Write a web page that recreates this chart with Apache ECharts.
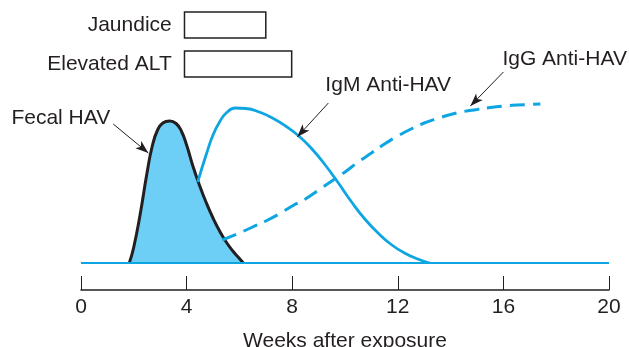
<!DOCTYPE html>
<html>
<head>
<meta charset="utf-8">
<script src="https://cdn.jsdelivr.net/npm/echarts@6/dist/echarts.min.js"></script>
<style>
html,body{margin:0;padding:0;background:#fff;}
#chart{width:629px;height:347px;}
</style>
</head>
<body>
<div id="chart"></div>
<script>
// ---- data ----
var tickValues = [0, 4, 8, 12, 16, 20];
var axisTitle = 'Weeks after exposure';

var fecalWeeks = [1.83, 2.0, 2.25, 2.5, 2.7, 2.9, 3.1, 3.36, 3.6, 3.8, 4.0, 4.25, 4.5, 4.75, 5.0, 5.25, 5.5, 5.75, 6.0, 6.15];
var fecalLevel = [0, 16, 50, 90, 117, 133, 140, 142, 139.5, 132, 118, 96, 77, 60, 45, 32, 21, 12, 4.5, 0];

var igmWeeks = [4.42, 4.75, 5.0, 5.25, 5.5, 5.84, 6.25, 6.75, 7.25, 7.75, 8.25, 8.75, 9.25, 9.75, 10.25, 10.75, 11.25, 11.75, 12.25, 12.75, 13.2];
var igmLevel = [81, 109, 128, 141, 150, 155, 154.5, 151, 145, 137, 127, 114, 98, 80, 61, 44, 30, 18.5, 10, 4, 0];

var iggWeeks = [5.35, 6.0, 6.5, 7.0, 7.5, 8.0, 8.5, 9.0, 9.5, 10.0, 10.5, 11.0, 11.5, 12.0, 12.5, 13.0, 13.5, 14.0, 14.5, 15.0, 15.5, 16.0, 16.5, 17.0, 17.4];
var iggLevel = [23, 30, 36, 42, 49, 57, 64, 73, 82, 91, 101, 110, 119, 127, 134, 140, 144.5, 148.5, 151.5, 153.5, 155.5, 157, 158, 158.5, 159];

var baselineWeeks = [0, 20];

// clinical periods
var periodLabels = ['Jaundice', 'Elevated ALT'];
var periodStart = [3.92, 3.92];
var periodEnd = [7.0, 7.98];
var periodRowLow = [225, 186];
var periodRowHigh = [251, 212];

// annotation arrows: label, tail [week, level], tip [week, level]
var annLabels = ['Fecal HAV', 'IgM Anti-HAV', 'IgG Anti-HAV'];
var annTail = [[1.22, 139], [9.37, 160], [16.0, 191]];
var annTip = [[2.55, 110], [8.19, 126], [14.75, 157]];

// ---- build ----
function zip(a, b) { return a.map(function (v, i) { return [v, b[i]]; }); }

var INK = '#231f20';
var BLUE = '#0ea6e2';
var FILL = '#6dcff6';
var FONT = 'Liberation Sans, Arial, Helvetica, sans-serif';
var FS = 21;

var chart = echarts.init(document.getElementById('chart'));

var areas = periodLabels.map(function (lab, i) {
  return [
    { name: lab, coord: [periodStart[i], periodRowLow[i]] },
    { coord: [periodEnd[i], periodRowHigh[i]] }
  ];
});

var arrows = annLabels.map(function (lab, i) {
  return [
    { coord: annTail[i], symbol: 'none' },
    { coord: annTip[i], symbol: 'arrow', symbolSize: [7, 13] }
  ];
});

chart.setOption({
  animation: false,
  backgroundColor: '#fff',
  grid: { left: 81, right: 20, top: 0, bottom: 84, outerBoundsMode: 'none', containLabel: false },
  xAxis: {
    type: 'value', min: 0, max: 20, interval: 4,
    offset: 27,
    splitLine: { show: false },
    axisLine: { show: true, onZero: false, lineStyle: { color: INK, width: 1.5 } },
    axisTick: { show: true, inside: true, length: 14, lineStyle: { color: INK, width: 1 } },
    axisLabel: { fontSize: FS, color: INK, fontFamily: FONT, margin: 7 },
    name: axisTitle, nameLocation: 'middle', nameGap: 41,
    nameTextStyle: { fontSize: FS, color: INK, fontFamily: FONT }
  },
  yAxis: { type: 'value', min: 0, max: 263, show: false, splitLine: { show: false } },
  series: [
    {
      type: 'line', name: 'Fecal HAV', data: zip(fecalWeeks, fecalLevel),
      smooth: true, symbol: 'none', z: 2,
      lineStyle: { color: INK, width: 3 },
      areaStyle: { color: FILL, opacity: 1 }
    },
    {
      type: 'line', name: 'IgM Anti-HAV', data: zip(igmWeeks, igmLevel),
      smooth: true, symbol: 'none', z: 3,
      lineStyle: { color: BLUE, width: 2.8 }
    },
    {
      type: 'line', name: 'IgG Anti-HAV', data: zip(iggWeeks, iggLevel),
      smooth: true, symbol: 'none', z: 3,
      lineStyle: { color: BLUE, width: 3, type: [15, 8] }
    },
    {
      type: 'line', name: 'baseline', data: zip(baselineWeeks, [0, 0]),
      symbol: 'none', z: 4, silent: true,
      lineStyle: { color: BLUE, width: 2 },
      markArea: {
        silent: true,
        itemStyle: { color: 'rgba(0,0,0,0)', borderColor: INK, borderWidth: 1.5 },
        label: { show: true, position: 'left', distance: 12, fontSize: FS, color: INK, fontFamily: FONT },
        data: areas
      },
      markLine: {
        silent: true,
        animation: false,
        symbol: ['none', 'arrow'],
        label: { show: false },
        lineStyle: { color: INK, width: 1, type: 'solid' },
        data: arrows
      }
    }
  ]
});

// annotation texts placed at the arrow tails
var textPos = [
  { anchor: 'right', dx: -3, dy: -6 },
  { anchor: 'left', dx: -3, dy: -18 },
  { anchor: 'left', dx: -1, dy: -13 }
];
var graphics = annLabels.map(function (lab, i) {
  var p = chart.convertToPixel({ gridIndex: 0 }, annTail[i]);
  var tp = textPos[i];
  return {
    type: 'text',
    x: p[0] + tp.dx, y: p[1] + tp.dy,
    style: {
      text: lab, fill: INK, fontSize: FS, fontFamily: FONT,
      align: tp.anchor, verticalAlign: 'middle'
    }
  };
});
chart.setOption({ graphic: graphics });
</script>
</body>
</html>
